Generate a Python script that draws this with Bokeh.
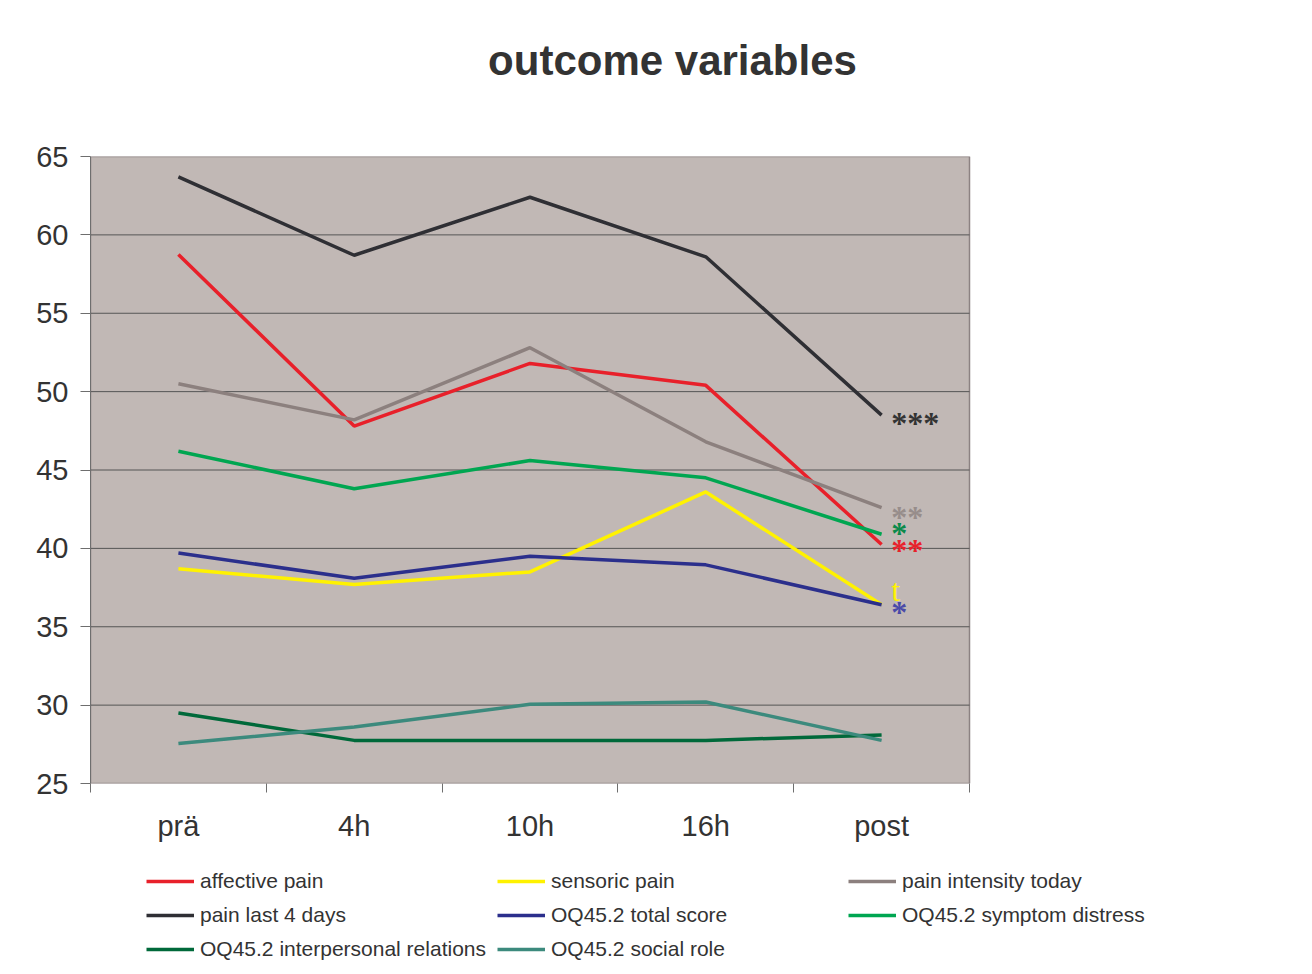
import numpy as np
from bokeh.plotting import figure
from bokeh.layouts import column
from bokeh.models import (Range1d, FixedTicker, Legend, LegendItem, ColumnDataSource)
from bokeh.core.properties import value
from bokeh.embed import file_html
from bokeh.resources import INLINE

# ---------------- data ----------------
categories = ["prä", "4h", "10h", "16h", "post"]

affective_pain = [58.75, 47.8, 51.8, 50.4, 40.25]
sensoric_pain = [38.7, 37.7, 38.5, 43.6, 36.4]
pain_intensity_today = [50.5, 48.2, 52.8, 46.8, 42.6]
pain_last_4_days = [63.7, 58.7, 62.4, 58.6, 48.5]
oq_total_score = [39.7, 38.1, 39.5, 38.95, 36.4]
oq_symptom_distress = [46.2, 43.8, 45.6, 44.5, 40.9]
oq_interpersonal = [29.5, 27.75, 27.75, 27.75, 28.1]
oq_social_role = [27.55, 28.6, 30.05, 30.2, 27.75]

series_names = ["affective pain", "sensoric pain", "pain intensity today",
                "pain last 4 days", "OQ45.2 total score", "OQ45.2 symptom distress",
                "OQ45.2 interpersonal relations", "OQ45.2 social role"]
series_values = [affective_pain, sensoric_pain, pain_intensity_today,
                 pain_last_4_days, oq_total_score, oq_symptom_distress,
                 oq_interpersonal, oq_social_role]
series_colors = ["#e8202a", "#fff200", "#8c807e", "#2f2f34",
                 "#2b2f8c", "#00a651", "#00693a", "#3c8a7d"]

# significance marks next to the "post" values
annot_texts = ["***", "**", "*", "**", "t", "*"]
annot_levels = [48.15, 42.16, 41.08, 40.0, 37.5, 36.04]
annot_colors = ["#333333", "#978d8b", "#0a8a4a", "#e8202a", "#fff200", "#4a4aa8"]
annot_styles = ["bold", "bold", "bold", "bold", "normal", "bold"]

title_text = "outcome variables"
y_min, y_max = 25, 65
y_ticks = [25, 30, 35, 40, 45, 50, 55, 60, 65]

# ---------------- layout constants (pixels) ----------------
FONT = "Liberation Sans"
W = 1304
TOP_H, MAIN_H, LEG_H = 140, 720, 106
FL, FR = 90, 1200          # frame left / right (shared by all strips)
PLOT_R = 969               # right edge of the grey plot area
n = len(categories)
xc = list(np.arange(n) + 0.5)
x_end = n * (FR - FL) / (PLOT_R - FL)


def strip(h):
    f = figure(width=W, height=h, output_backend="svg", toolbar_location=None,
               x_range=Range1d(FL, FR), y_range=Range1d(0, h),
               x_axis_location=None, y_axis_location=None,
               min_border_left=FL, min_border_right=W - FR,
               min_border_top=0, min_border_bottom=0)
    f.outline_line_color = None
    f.background_fill_color = "white"
    f.border_fill_color = "white"
    f.xgrid.grid_line_color = None
    f.ygrid.grid_line_color = None
    return f


# ---------------- title strip ----------------
top = strip(TOP_H)
top.text(x=[672], y=[TOP_H - 60], text=[title_text], text_font=value(FONT),
         text_font_size="42px", text_font_style="bold", text_color="#333333",
         text_align="center", text_baseline="middle")

# ---------------- main chart ----------------
p = figure(width=W, height=MAIN_H, output_backend="svg", toolbar_location=None,
           x_range=Range1d(0, x_end), y_range=Range1d(y_min, y_max),
           min_border_left=FL, min_border_right=W - FR, min_border_top=16,
           min_border_bottom=77)
p.background_fill_color = "white"
p.border_fill_color = "white"
p.outline_line_color = None
p.xgrid.grid_line_color = None
p.ygrid.grid_line_color = None

# grey plot area with its border
p.quad(left=[0], right=[n], bottom=[y_min], top=[y_max],
       fill_color="#c1b8b5", line_color="#8c8282", line_width=1.5)
# horizontal gridlines
inner = y_ticks[1:-1]
p.segment(x0=[0] * len(inner), x1=[n] * len(inner), y0=inner, y1=inner,
          line_color="#555555", line_width=1)

p.xaxis.ticker = FixedTicker(ticks=xc, minor_ticks=list(range(n + 1)))
p.xaxis.major_label_overrides = {float(x): c for x, c in zip(xc, categories)}
p.xaxis.major_tick_out = 0
p.xaxis.major_tick_in = 0
p.xaxis.minor_tick_out = 9
p.xaxis.minor_tick_in = 0
p.xaxis.minor_tick_line_color = "#6e6e6e"
p.xaxis.axis_line_color = None
p.xaxis.major_label_standoff = 17
p.xaxis.major_label_text_font = FONT
p.xaxis.major_label_text_font_size = "29px"
p.xaxis.major_label_text_color = "#333333"

p.yaxis.ticker = FixedTicker(ticks=y_ticks)
p.yaxis.major_tick_out = 10
p.yaxis.major_tick_in = 0
p.yaxis.minor_tick_line_color = None
p.yaxis.major_tick_line_color = "#6e6e6e"
p.yaxis.axis_line_color = "#6e6e6e"
p.yaxis.major_label_standoff = 12
p.yaxis.major_label_text_font = FONT
p.yaxis.major_label_text_font_size = "29px"
p.yaxis.major_label_text_color = "#333333"

for name, vals, col in zip(series_names, series_values, series_colors):
    p.line(xc, vals, line_color=col, line_width=3.5)

src = ColumnDataSource(dict(x=[xc[-1] + 0.055] * len(annot_texts), y=annot_levels,
                            t=annot_texts, c=annot_colors, s=annot_styles))
p.text(x="x", y="y", text="t", text_color="c", text_font_style="s", source=src,
       text_font=value("Liberation Serif"), text_font_size="32px",
       text_baseline="middle", text_align="left", y_offset=2)

# ---------------- legend strip ----------------
# the series are drawn here outside the visible range only so that the legend
# has renderers to take its line samples from
leg = strip(LEG_H)
items = []
for name, vals, col in zip(series_names, series_values, series_colors):
    r = leg.line(xc, vals, line_color=col, line_width=3.5)
    items.append(LegendItem(label=name, renderers=[r]))
legend = Legend(items=items, location=(146 - FL, 5), ncols=3, orientation="horizontal",
                glyph_width=48, glyph_height=20, label_height=20, label_width=287,
                label_standoff=6, spacing=10, padding=0, margin=0,
                background_fill_alpha=0, border_line_color=None,
                label_text_font=FONT, label_text_font_size="21px",
                label_text_color="#333333")
leg.add_layout(legend, "center")

layout = column(top, p, leg, spacing=0)
open("out.html", "w").write(file_html(layout, INLINE))
